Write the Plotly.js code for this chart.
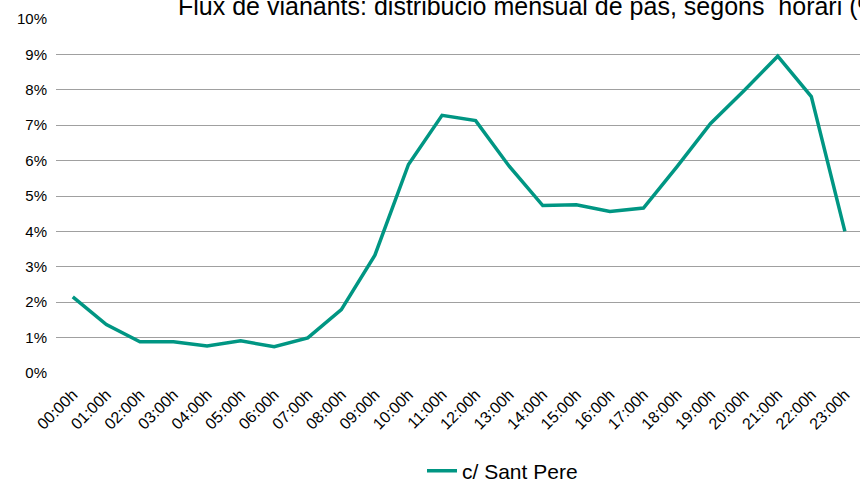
<!DOCTYPE html>
<html>
<head>
<meta charset="utf-8">
<script src="https://cdn.plot.ly/plotly-3.0.1.min.js"></script>
<style>html,body{margin:0;padding:0;background:#fff;}#chart{width:860px;height:483px;}</style>
</head>
<body>
<div id="chart"></div>
<script>
const hours = ["00:00h","01:00h","02:00h","03:00h","04:00h","05:00h","06:00h","07:00h","08:00h","09:00h","10:00h","11:00h","12:00h","13:00h","14:00h","15:00h","16:00h","17:00h","18:00h","19:00h","20:00h","21:00h","22:00h","23:00h"];
const santPere = [2.15,1.37,0.88,0.88,0.76,0.91,0.74,0.99,1.79,3.33,5.89,7.28,7.13,5.84,4.73,4.75,4.56,4.66,5.83,7.05,7.98,8.95,7.81,4.0];
const seriesName = "c/ Sant Pere";
const titleText = "Flux de vianants: distribució mensual de pas, segons  horari (%)";

const trace = {
  x: hours,
  y: santPere.map(v => v / 100),
  type: "scatter",
  mode: "lines",
  name: seriesName,
  line: {color: "#009683", width: 3.5},
  showlegend: true
};

const layout = {
  width: 860, height: 483,
  margin: {l: 56, r: 0, t: 19, b: 110},
  paper_bgcolor: "#fff", plot_bgcolor: "#fff",
  font: {family: "Liberation Sans, Arial, sans-serif", color: "#000", size: 15},
  title: {text: titleText, font: {size: 25, color: "#000"}, xref: "container", yref: "container", x: 178/860, xanchor: "left", y: 0.988, yanchor: "middle"},
  xaxis: {type: "category", range: [-0.5, 23.45], tickangle: -45, showgrid: false, zeroline: false, showline: false, ticks: "outside", ticklen: 5, tickcolor: "rgba(0,0,0,0)", tickfont: {size: 16}},
  yaxis: {range: [0, 0.1], dtick: 0.01, tickformat: ".0%", showgrid: true, gridcolor: "#a0a0a0", gridwidth: 1, zeroline: false, showline: false, ticks: "", ticklabelstandoff: 8, tickfont: {size: 15}},
  showlegend: true,
  legend: {orientation: "h", xref: "container", yref: "container", x: 422/860, xanchor: "left", y: 12/483, yanchor: "middle", font: {size: 21}, bgcolor: "rgba(0,0,0,0)"}
};

Plotly.newPlot("chart", [trace], layout, {displayModeBar: false, staticPlot: true});
</script>
</body>
</html>
